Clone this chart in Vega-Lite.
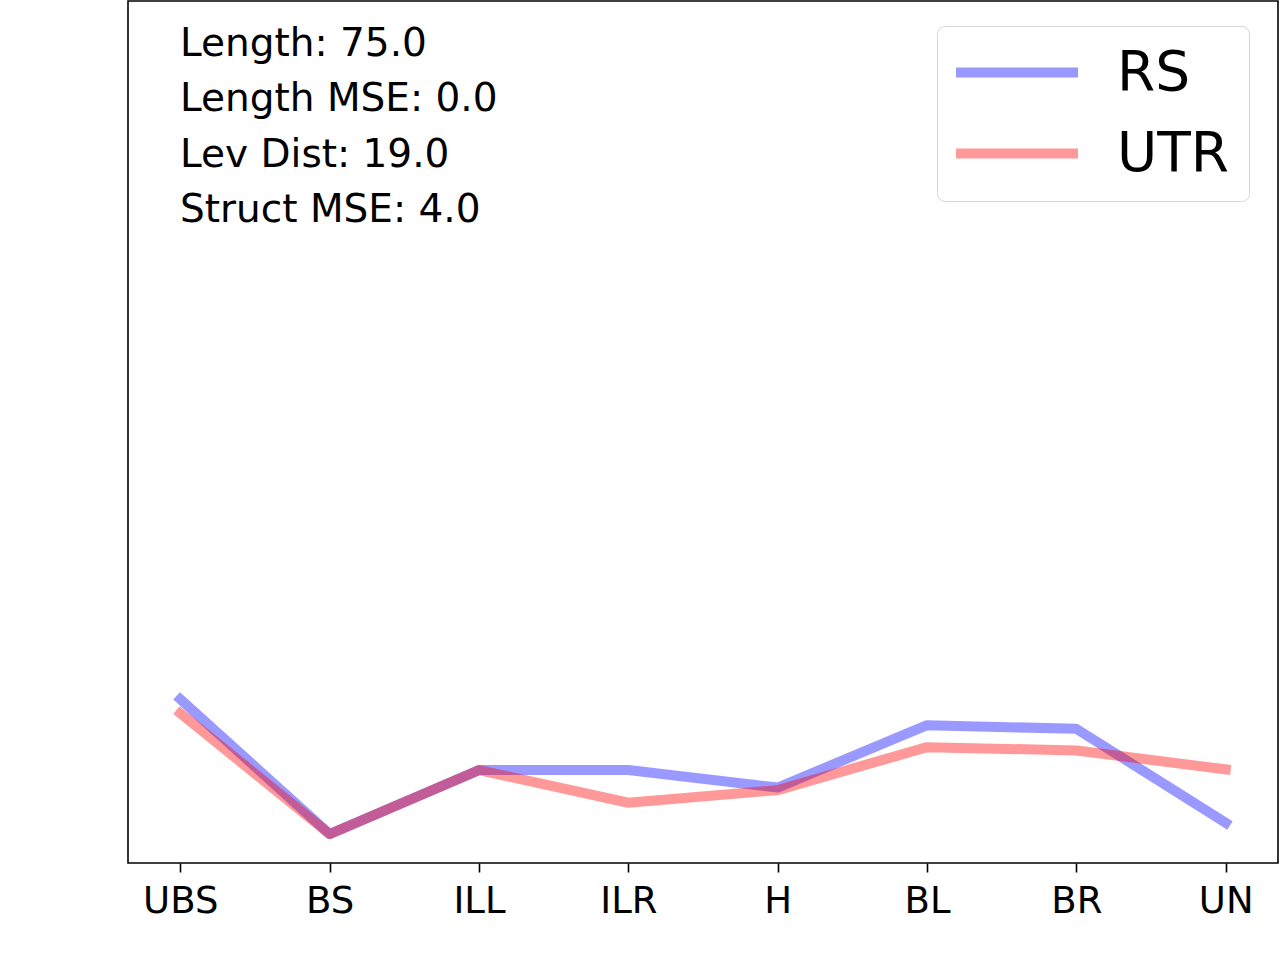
{
  "$schema": "https://vega.github.io/schema/vega-lite/v6.json",
  "autosize": {"type": "none"},
  "width": 1150,
  "height": 862,
  "padding": {"left": 128, "top": 1, "right": 2, "bottom": 97},
  "background": "white",
  "config": {
    "view": {"stroke": "black", "strokeWidth": 1.6},
    "font": "DejaVu Sans"
  },
  "title": {
    "text": ["Length: 75.0", "Length MSE: 0.0", "Lev Dist: 19.0", "Struct MSE: 4.0"],
    "anchor": "start",
    "frame": "group",
    "orient": "top",
    "baseline": "top",
    "offset": 0,
    "dx": 52,
    "dy": 229,
    "fontSize": 39,
    "lineHeight": 55.3,
    "font": "DejaVu Sans",
    "fontWeight": "normal",
    "color": "black"
  },
  "data": {
    "values": [
      {"cat": "UBS", "series": "RS", "v": 19.0},
      {"cat": "BS", "series": "RS", "v": 3.36},
      {"cat": "ILL", "series": "RS", "v": 10.78},
      {"cat": "ILR", "series": "RS", "v": 10.78},
      {"cat": "H", "series": "RS", "v": 8.75},
      {"cat": "BL", "series": "RS", "v": 15.99},
      {"cat": "BR", "series": "RS", "v": 15.56},
      {"cat": "UN", "series": "RS", "v": 4.67},
      {"cat": "UBS", "series": "UTR", "v": 17.38},
      {"cat": "BS", "series": "UTR", "v": 3.36},
      {"cat": "ILL", "series": "UTR", "v": 10.78},
      {"cat": "ILR", "series": "UTR", "v": 6.99},
      {"cat": "H", "series": "UTR", "v": 8.46},
      {"cat": "BL", "series": "UTR", "v": 13.44},
      {"cat": "BR", "series": "UTR", "v": 13.06},
      {"cat": "UN", "series": "UTR", "v": 10.86}
    ]
  },
  "mark": {"type": "line", "strokeWidth": 10, "strokeOpacity": 0.4, "strokeCap": "square", "strokeJoin": "round"},
  "encoding": {
    "x": {
      "field": "cat",
      "type": "ordinal",
      "sort": ["UBS", "BS", "ILL", "ILR", "H", "BL", "BR", "UN"],
      "scale": {"type": "point", "padding": 0.35},
      "axis": {
        "title": null,
        "domain": false,
        "grid": false,
        "labelAngle": 0,
        "labelFontSize": 37,
        "labelFont": "DejaVu Sans",
        "labelColor": "black",
        "labelPadding": 11,
        "tickColor": "black",
        "tickSize": 9,
        "tickWidth": 1.6
      }
    },
    "y": {
      "field": "v",
      "type": "quantitative",
      "scale": {"domain": [0, 100], "nice": false, "zero": false},
      "axis": null
    },
    "color": {
      "field": "series",
      "type": "nominal",
      "scale": {"domain": ["RS", "UTR"], "range": ["#0000ff", "#ff0000"]},
      "legend": {
        "title": null,
        "orient": "none",
        "legendX": 809,
        "legendY": 25,
        "symbolType": "M-1.35,0H4.65",
        "symbolSize": 1654,
        "symbolStrokeWidth": 10,
        "symbolOpacity": 0.4,
        "labelFontSize": 55,
        "labelFont": "DejaVu Sans",
        "labelColor": "black",
        "labelOffset": 106,
        "labelLimit": 400,
        "rowPadding": 25,
        "padding": 19,
        "strokeColor": "#d6d6d6",
        "cornerRadius": 8,
        "fillColor": "white"
      }
    }
  }
}
